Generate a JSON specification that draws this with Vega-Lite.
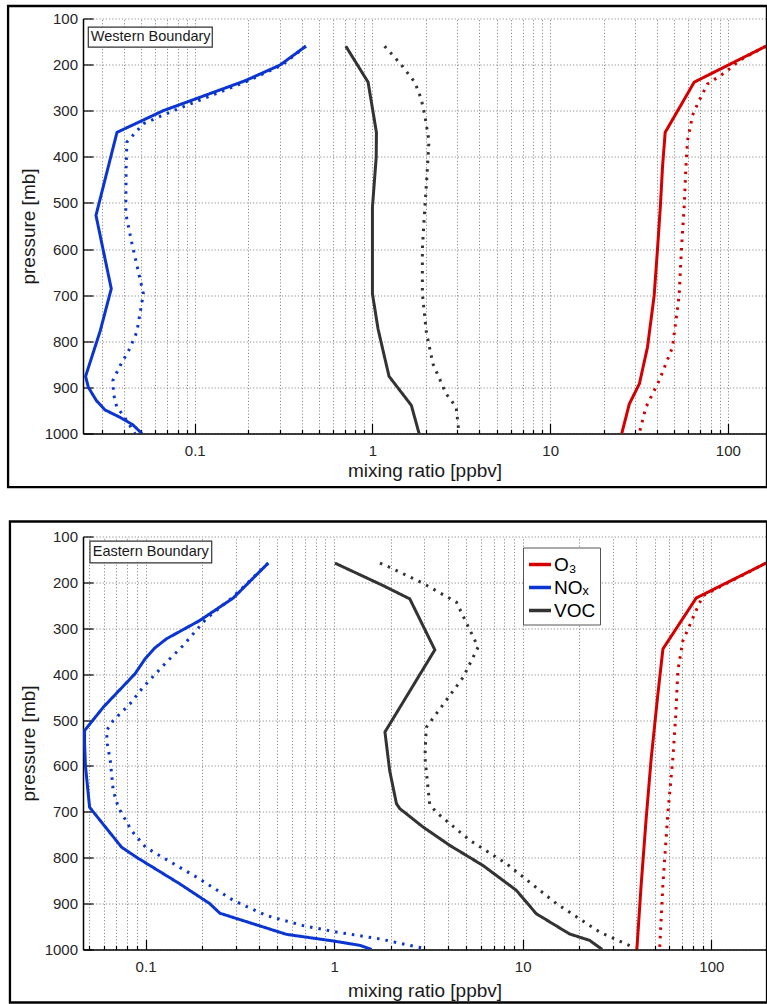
{
  "$schema": "https://vega.github.io/schema/vega-lite/v6.json",
  "background": "white",
  "padding": {"left": 6, "top": 4.5, "right": 0, "bottom": 0},
  "bounds": "flush",
  "spacing": 103,
  "config": {
    "font": "Liberation Sans",
    "view": {"stroke": null},
    "axis": {
      "grid": true,
      "gridColor": "#8f8f8f",
      "gridDash": [1.2, 2],
      "gridWidth": 1,
      "domainColor": "#000000",
      "domainWidth": 1.5,
      "tickColor": "#000000",
      "tickWidth": 1.2,
      "labelFontSize": 15,
      "labelColor": "#262626",
      "labelOverlap": false,
      "labelFlush": false,
      "titleFontSize": 19,
      "titleFontWeight": "normal",
      "titleColor": "#1a1a1a"
    }
  },
  "datasets": {
    "west": [
      {"species": "O₃", "case": "case 1", "p": 160, "v": 164},
      {"species": "O₃", "case": "case 1", "p": 238, "v": 64.7},
      {"species": "O₃", "case": "case 1", "p": 347, "v": 44.4},
      {"species": "O₃", "case": "case 1", "p": 422, "v": 42.9},
      {"species": "O₃", "case": "case 1", "p": 509, "v": 41.7},
      {"species": "O₃", "case": "case 1", "p": 600, "v": 40.2},
      {"species": "O₃", "case": "case 1", "p": 701, "v": 38.5},
      {"species": "O₃", "case": "case 1", "p": 813, "v": 35.3},
      {"species": "O₃", "case": "case 1", "p": 892, "v": 31.8},
      {"species": "O₃", "case": "case 1", "p": 936, "v": 27.9},
      {"species": "O₃", "case": "case 1", "p": 1000, "v": 25.3},
      {"species": "O₃", "case": "case 2", "p": 160, "v": 164},
      {"species": "O₃", "case": "case 2", "p": 191, "v": 116},
      {"species": "O₃", "case": "case 2", "p": 216, "v": 97.4},
      {"species": "O₃", "case": "case 2", "p": 242, "v": 76.8},
      {"species": "O₃", "case": "case 2", "p": 278, "v": 69},
      {"species": "O₃", "case": "case 2", "p": 310, "v": 63.3},
      {"species": "O₃", "case": "case 2", "p": 365, "v": 59.3},
      {"species": "O₃", "case": "case 2", "p": 422, "v": 58.1},
      {"species": "O₃", "case": "case 2", "p": 509, "v": 56.8},
      {"species": "O₃", "case": "case 2", "p": 596, "v": 54.9},
      {"species": "O₃", "case": "case 2", "p": 701, "v": 53.2},
      {"species": "O₃", "case": "case 2", "p": 813, "v": 48.8},
      {"species": "O₃", "case": "case 2", "p": 885, "v": 41.1},
      {"species": "O₃", "case": "case 2", "p": 943, "v": 34.6},
      {"species": "O₃", "case": "case 2", "p": 1000, "v": 31.7},
      {"species": "NOₓ", "case": "case 1", "p": 160, "v": 0.422},
      {"species": "NOₓ", "case": "case 1", "p": 201, "v": 0.302},
      {"species": "NOₓ", "case": "case 1", "p": 235, "v": 0.192},
      {"species": "NOₓ", "case": "case 1", "p": 300, "v": 0.0664},
      {"species": "NOₓ", "case": "case 1", "p": 347, "v": 0.0365},
      {"species": "NOₓ", "case": "case 1", "p": 527, "v": 0.0278},
      {"species": "NOₓ", "case": "case 1", "p": 686, "v": 0.0339},
      {"species": "NOₓ", "case": "case 1", "p": 777, "v": 0.0294},
      {"species": "NOₓ", "case": "case 1", "p": 876, "v": 0.0243},
      {"species": "NOₓ", "case": "case 1", "p": 900, "v": 0.0252},
      {"species": "NOₓ", "case": "case 1", "p": 929, "v": 0.028},
      {"species": "NOₓ", "case": "case 1", "p": 949, "v": 0.0313},
      {"species": "NOₓ", "case": "case 1", "p": 965, "v": 0.038},
      {"species": "NOₓ", "case": "case 1", "p": 981, "v": 0.0448},
      {"species": "NOₓ", "case": "case 1", "p": 1000, "v": 0.0504},
      {"species": "NOₓ", "case": "case 2", "p": 160, "v": 0.422},
      {"species": "NOₓ", "case": "case 2", "p": 201, "v": 0.31},
      {"species": "NOₓ", "case": "case 2", "p": 235, "v": 0.2},
      {"species": "NOₓ", "case": "case 2", "p": 300, "v": 0.0758},
      {"species": "NOₓ", "case": "case 2", "p": 328, "v": 0.0514},
      {"species": "NOₓ", "case": "case 2", "p": 368, "v": 0.0415},
      {"species": "NOₓ", "case": "case 2", "p": 422, "v": 0.0411},
      {"species": "NOₓ", "case": "case 2", "p": 523, "v": 0.0409},
      {"species": "NOₓ", "case": "case 2", "p": 588, "v": 0.0443},
      {"species": "NOₓ", "case": "case 2", "p": 697, "v": 0.0514},
      {"species": "NOₓ", "case": "case 2", "p": 780, "v": 0.0472},
      {"species": "NOₓ", "case": "case 2", "p": 820, "v": 0.0425},
      {"species": "NOₓ", "case": "case 2", "p": 853, "v": 0.038},
      {"species": "NOₓ", "case": "case 2", "p": 885, "v": 0.0346},
      {"species": "NOₓ", "case": "case 2", "p": 914, "v": 0.0349},
      {"species": "NOₓ", "case": "case 2", "p": 943, "v": 0.0364},
      {"species": "NOₓ", "case": "case 2", "p": 961, "v": 0.0397},
      {"species": "NOₓ", "case": "case 2", "p": 1000, "v": 0.046},
      {"species": "VOC", "case": "case 1", "p": 160, "v": 0.708},
      {"species": "VOC", "case": "case 1", "p": 238, "v": 0.945},
      {"species": "VOC", "case": "case 1", "p": 347, "v": 1.053},
      {"species": "VOC", "case": "case 1", "p": 401, "v": 1.05},
      {"species": "VOC", "case": "case 1", "p": 509, "v": 1.0},
      {"species": "VOC", "case": "case 1", "p": 697, "v": 1.0},
      {"species": "VOC", "case": "case 1", "p": 773, "v": 1.075},
      {"species": "VOC", "case": "case 1", "p": 820, "v": 1.147},
      {"species": "VOC", "case": "case 1", "p": 876, "v": 1.24},
      {"species": "VOC", "case": "case 1", "p": 939, "v": 1.656},
      {"species": "VOC", "case": "case 1", "p": 1000, "v": 1.83},
      {"species": "VOC", "case": "case 2", "p": 160, "v": 1.17},
      {"species": "VOC", "case": "case 2", "p": 198, "v": 1.436},
      {"species": "VOC", "case": "case 2", "p": 238, "v": 1.73},
      {"species": "VOC", "case": "case 2", "p": 274, "v": 1.88},
      {"species": "VOC", "case": "case 2", "p": 310, "v": 1.97},
      {"species": "VOC", "case": "case 2", "p": 365, "v": 2.08},
      {"species": "VOC", "case": "case 2", "p": 437, "v": 2.03},
      {"species": "VOC", "case": "case 2", "p": 553, "v": 1.94},
      {"species": "VOC", "case": "case 2", "p": 600, "v": 1.91},
      {"species": "VOC", "case": "case 2", "p": 697, "v": 1.91},
      {"species": "VOC", "case": "case 2", "p": 780, "v": 2.01},
      {"species": "VOC", "case": "case 2", "p": 849, "v": 2.19},
      {"species": "VOC", "case": "case 2", "p": 914, "v": 2.6},
      {"species": "VOC", "case": "case 2", "p": 943, "v": 2.96},
      {"species": "VOC", "case": "case 2", "p": 1000, "v": 3.07}
    ],
    "east": [
      {"species": "O₃", "case": "case 1", "p": 158, "v": 195},
      {"species": "O₃", "case": "case 1", "p": 234, "v": 83.2},
      {"species": "O₃", "case": "case 1", "p": 345, "v": 55.4},
      {"species": "O₃", "case": "case 1", "p": 443, "v": 52.1},
      {"species": "O₃", "case": "case 1", "p": 584, "v": 48},
      {"species": "O₃", "case": "case 1", "p": 712, "v": 45.2},
      {"species": "O₃", "case": "case 1", "p": 857, "v": 42.5},
      {"species": "O₃", "case": "case 1", "p": 1000, "v": 40.3},
      {"species": "O₃", "case": "case 2", "p": 158, "v": 195},
      {"species": "O₃", "case": "case 2", "p": 229, "v": 90.3},
      {"species": "O₃", "case": "case 2", "p": 261, "v": 83.2},
      {"species": "O₃", "case": "case 2", "p": 327, "v": 70.7},
      {"species": "O₃", "case": "case 2", "p": 392, "v": 66.5},
      {"species": "O₃", "case": "case 2", "p": 494, "v": 64.7},
      {"species": "O₃", "case": "case 2", "p": 581, "v": 62.6},
      {"species": "O₃", "case": "case 2", "p": 701, "v": 58.9},
      {"species": "O₃", "case": "case 2", "p": 857, "v": 55.4},
      {"species": "O₃", "case": "case 2", "p": 1000, "v": 53.2},
      {"species": "NOₓ", "case": "case 1", "p": 158, "v": 0.447},
      {"species": "NOₓ", "case": "case 1", "p": 234, "v": 0.292},
      {"species": "NOₓ", "case": "case 1", "p": 283, "v": 0.194},
      {"species": "NOₓ", "case": "case 1", "p": 323, "v": 0.129},
      {"species": "NOₓ", "case": "case 1", "p": 343, "v": 0.112},
      {"species": "NOₓ", "case": "case 1", "p": 367, "v": 0.0993},
      {"species": "NOₓ", "case": "case 1", "p": 399, "v": 0.088},
      {"species": "NOₓ", "case": "case 1", "p": 472, "v": 0.0597},
      {"species": "NOₓ", "case": "case 1", "p": 523, "v": 0.0475},
      {"species": "NOₓ", "case": "case 1", "p": 552, "v": 0.0475},
      {"species": "NOₓ", "case": "case 1", "p": 599, "v": 0.048},
      {"species": "NOₓ", "case": "case 1", "p": 690, "v": 0.0505},
      {"species": "NOₓ", "case": "case 1", "p": 777, "v": 0.0746},
      {"species": "NOₓ", "case": "case 1", "p": 799, "v": 0.0896},
      {"species": "NOₓ", "case": "case 1", "p": 857, "v": 0.152},
      {"species": "NOₓ", "case": "case 1", "p": 900, "v": 0.219},
      {"species": "NOₓ", "case": "case 1", "p": 921, "v": 0.248},
      {"species": "NOₓ", "case": "case 1", "p": 944, "v": 0.372},
      {"species": "NOₓ", "case": "case 1", "p": 967, "v": 0.559},
      {"species": "NOₓ", "case": "case 1", "p": 982, "v": 1.01},
      {"species": "NOₓ", "case": "case 1", "p": 991, "v": 1.37},
      {"species": "NOₓ", "case": "case 1", "p": 1000, "v": 1.58},
      {"species": "NOₓ", "case": "case 2", "p": 158, "v": 0.447},
      {"species": "NOₓ", "case": "case 2", "p": 210, "v": 0.33},
      {"species": "NOₓ", "case": "case 2", "p": 231, "v": 0.292},
      {"species": "NOₓ", "case": "case 2", "p": 261, "v": 0.238},
      {"species": "NOₓ", "case": "case 2", "p": 279, "v": 0.21},
      {"species": "NOₓ", "case": "case 2", "p": 338, "v": 0.158},
      {"species": "NOₓ", "case": "case 2", "p": 374, "v": 0.129},
      {"species": "NOₓ", "case": "case 2", "p": 428, "v": 0.0973},
      {"species": "NOₓ", "case": "case 2", "p": 465, "v": 0.0826},
      {"species": "NOₓ", "case": "case 2", "p": 501, "v": 0.0674},
      {"species": "NOₓ", "case": "case 2", "p": 523, "v": 0.0621},
      {"species": "NOₓ", "case": "case 2", "p": 552, "v": 0.0627},
      {"species": "NOₓ", "case": "case 2", "p": 588, "v": 0.065},
      {"species": "NOₓ", "case": "case 2", "p": 654, "v": 0.0674},
      {"species": "NOₓ", "case": "case 2", "p": 690, "v": 0.0717},
      {"species": "NOₓ", "case": "case 2", "p": 741, "v": 0.0843},
      {"species": "NOₓ", "case": "case 2", "p": 777, "v": 0.1},
      {"species": "NOₓ", "case": "case 2", "p": 800, "v": 0.124},
      {"species": "NOₓ", "case": "case 2", "p": 842, "v": 0.186},
      {"species": "NOₓ", "case": "case 2", "p": 893, "v": 0.292},
      {"species": "NOₓ", "case": "case 2", "p": 926, "v": 0.438},
      {"species": "NOₓ", "case": "case 2", "p": 948, "v": 0.685},
      {"species": "NOₓ", "case": "case 2", "p": 962, "v": 1.03},
      {"species": "NOₓ", "case": "case 2", "p": 977, "v": 1.75},
      {"species": "NOₓ", "case": "case 2", "p": 997, "v": 2.95},
      {"species": "VOC", "case": "case 1", "p": 158, "v": 1.01},
      {"species": "VOC", "case": "case 1", "p": 207, "v": 1.82},
      {"species": "VOC", "case": "case 1", "p": 236, "v": 2.52},
      {"species": "VOC", "case": "case 1", "p": 347, "v": 3.42},
      {"species": "VOC", "case": "case 1", "p": 526, "v": 1.86},
      {"species": "VOC", "case": "case 1", "p": 610, "v": 1.97},
      {"species": "VOC", "case": "case 1", "p": 682, "v": 2.14},
      {"species": "VOC", "case": "case 1", "p": 693, "v": 2.23},
      {"species": "VOC", "case": "case 1", "p": 733, "v": 2.96},
      {"species": "VOC", "case": "case 1", "p": 773, "v": 4.1},
      {"species": "VOC", "case": "case 1", "p": 817, "v": 6.16},
      {"species": "VOC", "case": "case 1", "p": 871, "v": 9.25},
      {"species": "VOC", "case": "case 1", "p": 922, "v": 11.8},
      {"species": "VOC", "case": "case 1", "p": 966, "v": 17.7},
      {"species": "VOC", "case": "case 1", "p": 980, "v": 22.6},
      {"species": "VOC", "case": "case 1", "p": 1000, "v": 26.4},
      {"species": "VOC", "case": "case 2", "p": 158, "v": 1.75},
      {"species": "VOC", "case": "case 2", "p": 167, "v": 1.97},
      {"species": "VOC", "case": "case 2", "p": 202, "v": 2.96},
      {"species": "VOC", "case": "case 2", "p": 243, "v": 4.45},
      {"species": "VOC", "case": "case 2", "p": 341, "v": 5.8},
      {"species": "VOC", "case": "case 2", "p": 407, "v": 4.83},
      {"species": "VOC", "case": "case 2", "p": 516, "v": 3.08},
      {"species": "VOC", "case": "case 2", "p": 581, "v": 3.03},
      {"species": "VOC", "case": "case 2", "p": 683, "v": 3.21},
      {"species": "VOC", "case": "case 2", "p": 701, "v": 3.48},
      {"species": "VOC", "case": "case 2", "p": 762, "v": 5.24},
      {"species": "VOC", "case": "case 2", "p": 813, "v": 8.2},
      {"species": "VOC", "case": "case 2", "p": 900, "v": 15.1},
      {"species": "VOC", "case": "case 2", "p": 962, "v": 25.6},
      {"species": "VOC", "case": "case 2", "p": 997, "v": 39.5}
    ]
  },
  "resolve": {"scale": {"color": "independent", "x": "independent", "y": "independent"}},
  "vconcat": [
    {
      "width": 683,
      "height": 415,
      "layer": [
        {
          "data": {"name": "west"},
          "mark": {"type": "line", "strokeWidth": 3, "clip": true},
          "encoding": {
            "x": {
              "field": "v", "type": "quantitative",
              "scale": {"type": "log", "domain": [0.0235, 164]},
              "axis": {
                "title": "mixing ratio [ppbv]",
                "values": [0.03, 0.04, 0.05, 0.06, 0.07, 0.08, 0.09, 0.1, 0.2, 0.3, 0.4, 0.5, 0.6, 0.7, 0.8, 0.9, 1, 2, 3, 4, 5, 6, 7, 8, 9, 10, 20, 30, 40, 50, 60, 70, 80, 90, 100],
                "labelExpr": "abs(log(datum.value)/LN10 - round(log(datum.value)/LN10)) < 0.001 ? format(datum.value, '~g') : ''",
                "tickSize": {"condition": {"test": "abs(log(datum.value)/LN10 - round(log(datum.value)/LN10)) < 0.001", "value": -10}, "value": -4},
                "labelPadding": 20,
                "titlePadding": -3.5
              }
            },
            "y": {
              "field": "p", "type": "quantitative",
              "scale": {"domain": [100, 1000], "reverse": true},
              "axis": {
                "title": "pressure [mb]",
                "values": [100, 200, 300, 400, 500, 600, 700, 800, 900, 1000],
                "format": "d",
                "tickSize": -10,
                "labelPadding": 15.5,
                "titlePadding": 6
              }
            },
            "color": {
              "field": "species", "type": "nominal",
              "scale": {"domain": ["O₃", "NOₓ", "VOC"], "range": ["#d40000", "#0b35d0", "#333333"]},
              "legend": null
            },
            "strokeDash": {
              "field": "case", "type": "nominal",
              "scale": {"domain": ["case 1", "case 2"], "range": [[1, 0], [2.5, 6]]},
              "legend": null
            },
            "order": {"field": "p", "type": "quantitative"}
          }
        },
        {
          "data": {"values": [{}]},
          "mark": {"type": "rect", "fill": null, "stroke": "#000000", "strokeWidth": 2.3, "clip": false},
          "encoding": {
            "x": {"datum": 0.0089, "type": "quantitative", "scale": {"type": "log", "domain": [0.0235, 164]}, "title": "mixing ratio [ppbv]"},
            "x2": {"datum": 166},
            "y": {"datum": 72.9, "type": "quantitative", "scale": {"domain": [100, 1000], "reverse": true}, "title": "pressure [mb]"},
            "y2": {"datum": 1116.5}
          }
        },
        {
          "data": {"values": [{}]},
          "mark": {"type": "rect", "fill": "#ffffff", "stroke": "#333333", "strokeWidth": 1.2, "clip": false},
          "encoding": {
            "x": {"datum": 0.02517, "type": "quantitative", "scale": {"type": "log", "domain": [0.0235, 164]}, "title": "mixing ratio [ppbv]"},
            "x2": {"datum": 0.1255},
            "y": {"datum": 118.9, "type": "quantitative", "scale": {"domain": [100, 1000], "reverse": true}, "title": "pressure [mb]"},
            "y2": {"datum": 162.2}
          }
        },
        {
          "data": {"values": [{}]},
          "mark": {"type": "text", "align": "left", "baseline": "middle", "fontSize": 14.5, "color": "#1a1a1a"},
          "encoding": {
            "x": {"datum": 0.026, "type": "quantitative", "scale": {"type": "log", "domain": [0.0235, 164]}, "title": "mixing ratio [ppbv]"},
            "y": {"datum": 140.5, "type": "quantitative", "scale": {"domain": [100, 1000], "reverse": true}, "title": "pressure [mb]"},
            "text": {"value": "Western Boundary"}
          }
        }
      ]
    },
    {
      "width": 683,
      "height": 413,
      "layer": [
        {
          "data": {"name": "east"},
          "mark": {"type": "line", "strokeWidth": 3, "clip": true},
          "encoding": {
            "x": {
              "field": "v", "type": "quantitative",
              "scale": {"type": "log", "domain": [0.0466, 195]},
              "axis": {
                "title": "mixing ratio [ppbv]",
                "values": [0.05, 0.06, 0.07, 0.08, 0.09, 0.1, 0.2, 0.3, 0.4, 0.5, 0.6, 0.7, 0.8, 0.9, 1, 2, 3, 4, 5, 6, 7, 8, 9, 10, 20, 30, 40, 50, 60, 70, 80, 90, 100],
                "labelExpr": "abs(log(datum.value)/LN10 - round(log(datum.value)/LN10)) < 0.001 ? format(datum.value, '~g') : ''",
                "tickSize": {"condition": {"test": "abs(log(datum.value)/LN10 - round(log(datum.value)/LN10)) < 0.001", "value": -10}, "value": -4},
                "labelPadding": 20,
                "titlePadding": 0.5
              }
            },
            "y": {
              "field": "p", "type": "quantitative",
              "scale": {"domain": [100, 1000], "reverse": true},
              "axis": {
                "title": "pressure [mb]",
                "values": [100, 200, 300, 400, 500, 600, 700, 800, 900, 1000],
                "format": "d",
                "tickSize": -10,
                "labelPadding": 15.5,
                "titlePadding": 6
              }
            },
            "color": {
              "field": "species", "type": "nominal",
              "scale": {"domain": ["O₃", "NOₓ", "VOC"], "range": ["#d40000", "#0b35d0", "#333333"]},
              "legend": {
                "orient": "none",
                "legendX": 440,
                "legendY": 11,
                "title": null,
                "symbolType": "stroke",
                "symbolStrokeWidth": 3.5,
                "symbolSize": 484,
                "labelFontSize": 19,
                "labelColor": "#000000",
                "labelOffset": 1,
                "strokeColor": "#555555",
                "fillColor": "#ffffff",
                "padding": 4,
                "rowPadding": -2.5
              }
            },
            "strokeDash": {
              "field": "case", "type": "nominal",
              "scale": {"domain": ["case 1", "case 2"], "range": [[1, 0], [2.5, 6]]},
              "legend": null
            },
            "order": {"field": "p", "type": "quantitative"}
          }
        },
        {
          "data": {"values": [{}]},
          "mark": {"type": "rect", "fill": null, "stroke": "#000000", "strokeWidth": 2.3, "clip": false},
          "encoding": {
            "x": {"datum": 0.0191, "type": "quantitative", "scale": {"type": "log", "domain": [0.0466, 195]}, "title": "mixing ratio [ppbv]"},
            "x2": {"datum": 197.4},
            "y": {"datum": 67.3, "type": "quantitative", "scale": {"domain": [100, 1000], "reverse": true}, "title": "pressure [mb]"},
            "y2": {"datum": 1115.5}
          }
        },
        {
          "data": {"values": [{}]},
          "mark": {"type": "rect", "fill": "#ffffff", "stroke": "#333333", "strokeWidth": 1.2, "clip": false},
          "encoding": {
            "x": {"datum": 0.05075, "type": "quantitative", "scale": {"type": "log", "domain": [0.0466, 195]}, "title": "mixing ratio [ppbv]"},
            "x2": {"datum": 0.2243},
            "y": {"datum": 110.2, "type": "quantitative", "scale": {"domain": [100, 1000], "reverse": true}, "title": "pressure [mb]"},
            "y2": {"datum": 157.3}
          }
        },
        {
          "data": {"values": [{}]},
          "mark": {"type": "text", "align": "left", "baseline": "middle", "fontSize": 14.5, "color": "#1a1a1a"},
          "encoding": {
            "x": {"datum": 0.05248, "type": "quantitative", "scale": {"type": "log", "domain": [0.0466, 195]}, "title": "mixing ratio [ppbv]"},
            "y": {"datum": 133.8, "type": "quantitative", "scale": {"domain": [100, 1000], "reverse": true}, "title": "pressure [mb]"},
            "text": {"value": "Eastern Boundary"}
          }
        }
      ]
    }
  ]
}
